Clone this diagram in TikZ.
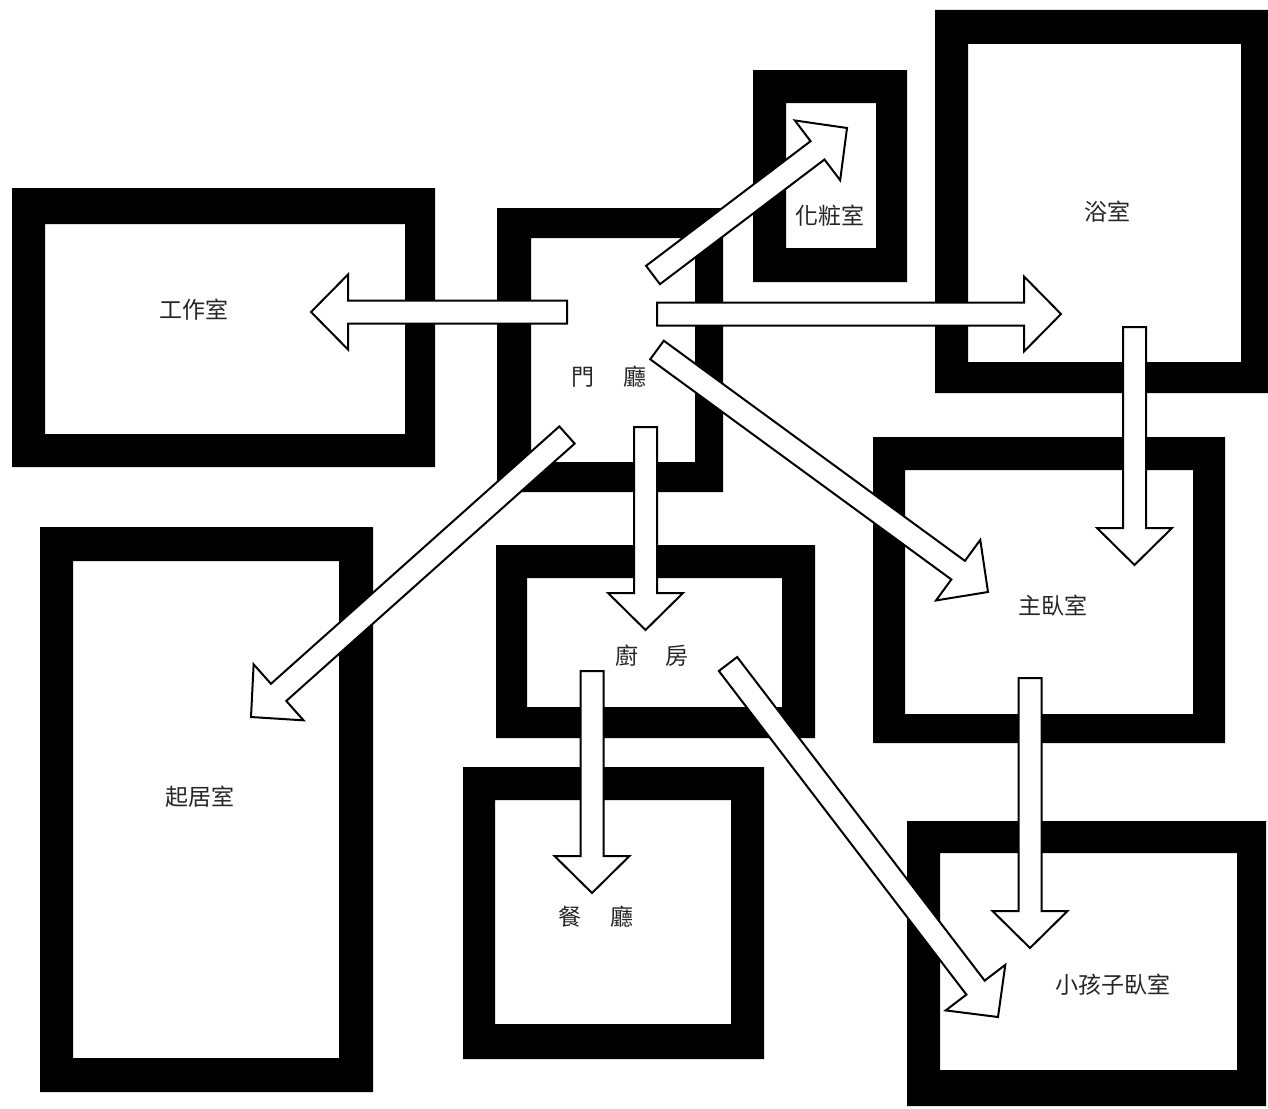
\documentclass[tikz,border=0pt]{standalone}
\usepackage{fontspec}
\newfontfamily\cjk{Noto Sans CJK TC}
\usetikzlibrary{calc}
\tikzset{
  frame/.style={fill=black, even odd rule},
  label/.style={font=\cjk\fontsize{23}{23}\selectfont, text=black!85, inner sep=0pt},
  arrowbox/.style={draw=black, fill=white, line width=2pt, line join=miter},
}
\newcommand\blockarrow[2]{%
  \coordinate (hb) at ($(#2)!37pt!(#1)$);
  \draw[arrowbox] ($(#1)!11.5pt!90:(#2)$) -- ($(hb)!11.5pt!-90:(#1)$) -- ($(hb)!37.5pt!-90:(#1)$) -- (#2) -- ($(hb)!37.5pt!90:(#1)$) -- ($(hb)!11.5pt!90:(#1)$) -- ($(#1)!11.5pt!-90:(#2)$) -- cycle;
}
\begin{document}
\begin{tikzpicture}[x=1pt,y=-1pt]
\useasboundingbox[fill=white] (0,0) rectangle (1268,1108);
% rooms (outer frame, inner white)
\fill[frame] (12,188) rectangle (435,467) (45,224) rectangle (405,434);      % work
\fill[frame] (497,208) rectangle (723,492) (531,238) rectangle (695,462);    % hall
\fill[frame] (753,70) rectangle (907,282) (786,103) rectangle (876,248);     % powder
\fill[frame] (935,10) rectangle (1268,393) (968,44) rectangle (1241,362);    % bath
\fill[frame] (873,437) rectangle (1225,743) (905,470) rectangle (1193,714);  % master
\fill[frame] (40,527) rectangle (373,1092) (73,561) rectangle (339,1058);    % living
\fill[frame] (496,545) rectangle (815,738) (527,578) rectangle (782,707);    % kitchen
\fill[frame] (463,767) rectangle (764,1059) (495,800) rectangle (731,1024);  % dining
\fill[frame] (907,821) rectangle (1266,1106) (940,853) rectangle (1237,1070);% kids
% arrow end points
\coordinate (hallW) at (567,312);   \coordinate (workIn) at (311,312);
\coordinate (hallE) at (657,314);   \coordinate (bathIn) at (1061,314);
\coordinate (hallNE) at (653,275);  \coordinate (powIn) at (847,128);
\coordinate (hallSE) at (657,350);  \coordinate (masterIn) at (988,592);
\coordinate (hallSW) at (567,435);  \coordinate (livIn) at (251,717);
\coordinate (hallS) at (645.5,427); \coordinate (kitIn) at (645.5,630);
\coordinate (bathS) at (1134.5,327);\coordinate (masterInN) at (1134.5,565);
\coordinate (masterS) at (1030,678);\coordinate (kidsIn) at (1030,948);
\coordinate (kitS) at (592,671);    \coordinate (dinIn) at (592,893);
\coordinate (kitSE) at (728,664);   \coordinate (kidsInW) at (998,1017);
% arrows
\blockarrow{hallW}{workIn}
\blockarrow{hallE}{bathIn}
\blockarrow{hallNE}{powIn}
\blockarrow{hallSE}{masterIn}
\blockarrow{hallSW}{livIn}
\blockarrow{hallS}{kitIn}
\blockarrow{bathS}{masterInN}
\blockarrow{masterS}{kidsIn}
\blockarrow{kitS}{dinIn}
\blockarrow{kitSE}{kidsInW}
% labels
\node[label] (work) at (194,310) {工作室};
\node[label] (hall) at (609,377) {門\hspace{1.25em}廳};
\node[label] (pow) at (830,216) {化粧室};
\node[label] (bath) at (1107,212) {浴室};
\node[label] (master) at (1053,606) {主臥室};
\node[label] (living) at (200,797) {起居室};
\node[label] (kitchen) at (652,656) {廚\hspace{1.17em}房};
\node[label] (dining) at (596,917) {餐\hspace{1.25em}廳};
\node[label] (kids) at (1113,985) {小孩子臥室};
\end{tikzpicture}
\end{document}
